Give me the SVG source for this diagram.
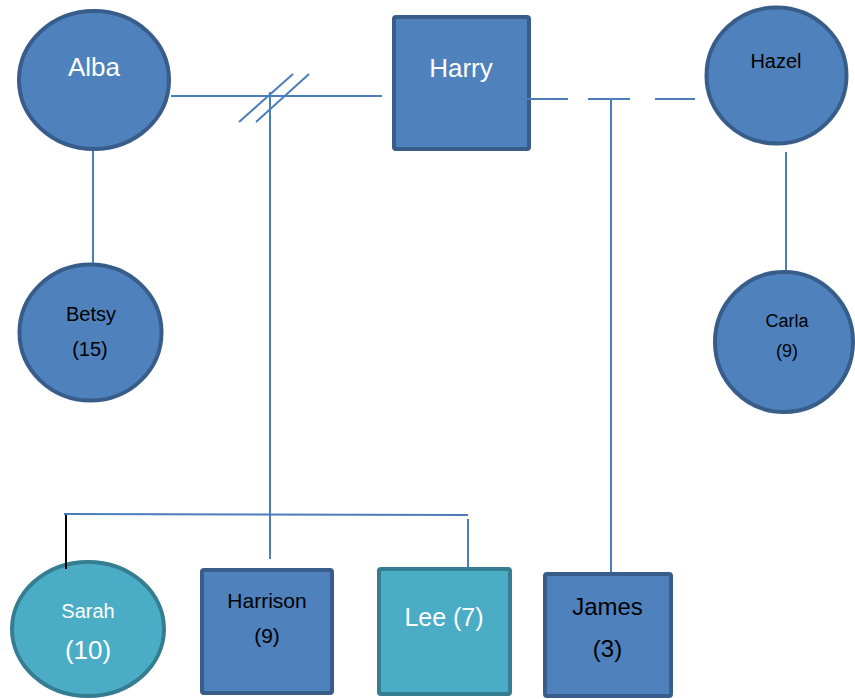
<svg xmlns="http://www.w3.org/2000/svg" width="855" height="699" viewBox="0 0 855 699">
<style>
.blue{fill:#4f81bd;stroke:#385d8a;stroke-width:4}
.teal{fill:#4bacc6;stroke:#357d91;stroke-width:4}
.ln{stroke:#4a7ebb;stroke-width:2;fill:none}
text{font-family:"Liberation Sans",Arial,sans-serif;text-anchor:middle}
.w{fill:#ffffff}
.k{fill:#000000}
</style>
<rect width="855" height="699" fill="#ffffff"/>
<g id="alba">
<ellipse class="blue" cx="94" cy="80" rx="75" ry="69"/>
<text class="w" x="94" y="76" font-size="26">Alba</text>
</g>
<g id="harry">
<rect class="blue" x="394" y="17" width="135" height="132" rx="2"/>
<text class="w" x="461" y="77" font-size="26">Harry</text>
</g>
<g id="hazel">
<ellipse class="blue" cx="776.5" cy="75.5" rx="70" ry="68"/>
<text class="k" x="776" y="68" font-size="20">Hazel</text>
</g>
<g id="betsy">
<ellipse class="blue" cx="90.5" cy="332.5" rx="71" ry="68"/>
<text class="k" x="91" y="321" font-size="20">Betsy</text>
<text class="k" x="90" y="356" font-size="20">(15)</text>
</g>
<g id="carla">
<ellipse class="blue" cx="784" cy="342" rx="69" ry="70"/>
<text class="k" x="787" y="327" font-size="18">Carla</text>
<text class="k" x="787" y="357" font-size="18">(9)</text>
</g>
<g id="sarah">
<ellipse class="teal" cx="88" cy="629" rx="76" ry="67"/>
<text class="w" x="88" y="618" font-size="20">Sarah</text>
<text class="w" x="88" y="659" font-size="26">(10)</text>
</g>
<g id="harrison">
<rect class="blue" x="202" y="570" width="130" height="123" rx="2"/>
<text class="k" x="267" y="608" font-size="21">Harrison</text>
<text class="k" x="267" y="643" font-size="21">(9)</text>
</g>
<g id="lee">
<rect class="teal" x="379" y="569" width="131" height="125" rx="2"/>
<text class="w" x="444" y="626" font-size="25">Lee (7)</text>
</g>
<g id="james">
<rect class="blue" x="545" y="574" width="126" height="122" rx="2"/>
<text class="k" x="607.5" y="615" font-size="24">James</text>
<text class="k" x="607.5" y="657" font-size="24">(3)</text>
</g>
<g id="connectors">
<line class="ln" x1="171" y1="96" x2="382" y2="96"/>
<line class="ln" x1="239" y1="122" x2="293" y2="74"/>
<line class="ln" x1="256" y1="122" x2="309" y2="74"/>
<line class="ln" x1="270" y1="92" x2="270" y2="559"/>
<line class="ln" x1="64" y1="514" x2="468" y2="515"/>
<line class="ln" x1="468" y1="519" x2="468" y2="567"/>
<line x1="66" y1="515" x2="66" y2="569" stroke="#000000" stroke-width="2"/>
<line class="ln" x1="518" y1="99" x2="695" y2="99" stroke-dasharray="50 20 42 25 40 100"/>
<line class="ln" x1="611" y1="99" x2="611" y2="572"/>
<line class="ln" x1="93" y1="151" x2="93" y2="263"/>
<line class="ln" x1="786" y1="152" x2="786" y2="270"/>
</g>
</svg>
